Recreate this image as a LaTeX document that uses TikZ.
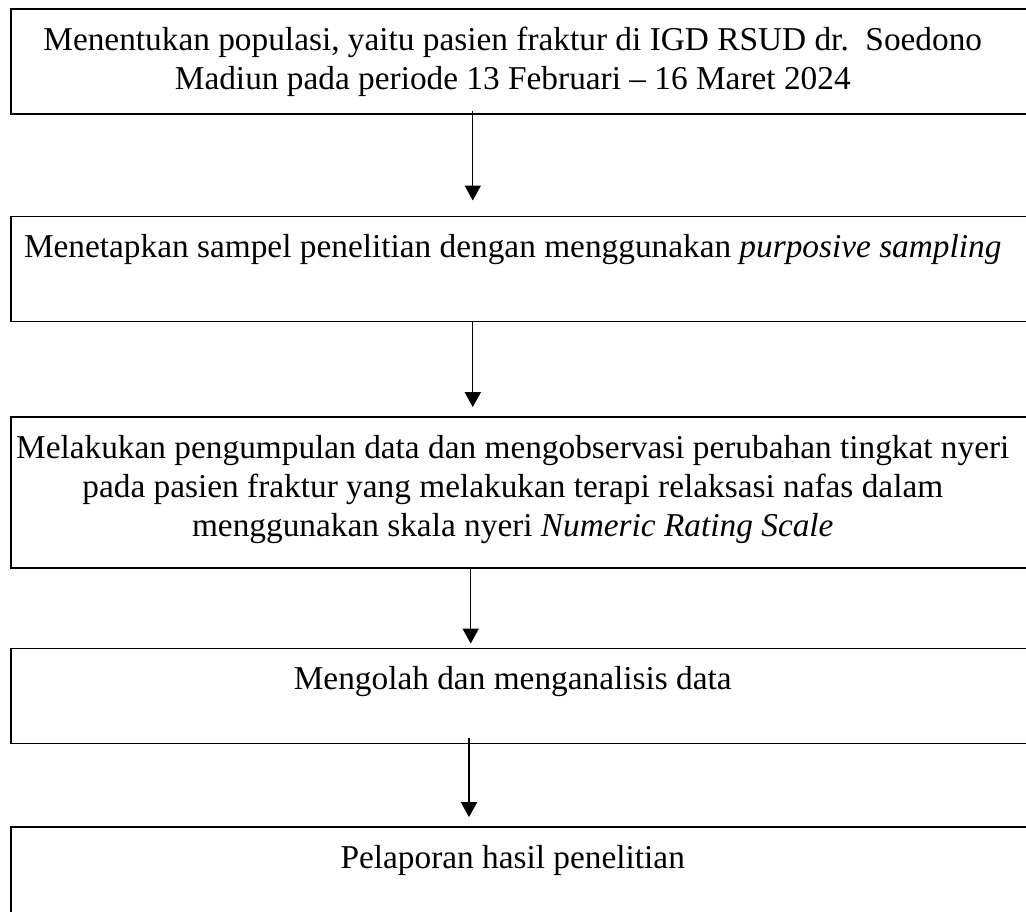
\documentclass[tikz,border=0pt]{standalone}
\usepackage{fontspec}
\setmainfont{Liberation Serif}
\usepackage{tikz}
\usetikzlibrary{arrows.meta,positioning}

\begin{document}
\begin{tikzpicture}[
  x=0.36pt,y=-0.36pt,
  font=\fontsize{12pt}{14.04pt}\selectfont,
  stepbox/.style={draw=black,line width=0.55pt,inner sep=0pt,
              execute at begin node={\begin{minipage}[c][#1][t]{361.44pt}%
                \centering\rule{0pt}{14.9pt}},
              execute at end node={\end{minipage}\hspace{10.8pt}}},
  arr/.style={-{Triangle[length=5.4pt,width=5.8pt]},line width=0.5pt}
]
\useasboundingbox (0,0) rectangle (1026,912);

\node[stepbox=37.8pt,anchor=north west] (populasi) at (10,8)
  {Menentukan populasi, yaitu pasien fraktur di IGD RSUD dr.\ \ Soedono\\
   Madiun pada periode 13 Februari -- 16 Maret 2024};
\node[stepbox=37.8pt,below=36.36pt of populasi] (sampel)
  {Menetapkan sampel penelitian dengan menggunakan \textit{purposive sampling}};
\node[stepbox=54.36pt,below=33.84pt of sampel] (kumpul)
  {Melakukan pengumpulan data dan mengobservasi perubahan tingkat nyeri\\
   pada pasien fraktur yang melakukan terapi relaksasi nafas dalam\\
   menggunakan skala nyeri \textit{Numeric Rating Scale}};
\node[stepbox=34.2pt,below=28.44pt of kumpul] (olah)
  {Mengolah dan menganalisis data};
\node[stepbox=43.2pt,below=29.52pt of olah] (lapor)
  {Pelaporan hasil penelitian};

\draw[arr] ([xshift=166.6pt,yshift=1.44pt]populasi.south west)
  -- ([xshift=166.6pt,yshift=5.4pt]sampel.north west);
\draw[arr] ([xshift=166.6pt,yshift=0.36pt]sampel.south west)
  -- ([xshift=166.6pt,yshift=3.24pt]kumpul.north west);
\draw[arr] ([xshift=165.85pt]kumpul.south west)
  -- ([xshift=165.85pt,yshift=1.44pt]olah.north west);
\draw[arr] ([xshift=165.24pt,yshift=2.16pt]olah.south west)
  -- ([xshift=165.24pt,yshift=3.24pt]lapor.north west);
\end{tikzpicture}
\end{document}
